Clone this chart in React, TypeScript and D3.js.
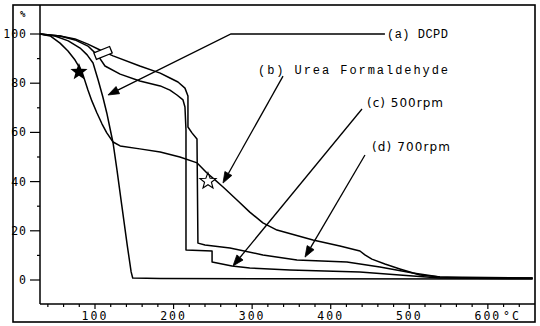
import React from "react";
import * as d3 from "d3";

// ---- data (temperature °C, weight %) ----
const dcpdT = [30, 49, 66, 81, 90, 97.5, 104, 110, 115, 119, 123, 128, 134, 141, 146, 148, 183, 657];
const dcpdV = [100, 99.2, 97.2, 94.3, 91.5, 88.2, 81.3, 74.4, 67.9, 61.8, 55.7, 44.7, 30.5, 14.2, 3.3, 0.8, 0.6, 0.4];

const ufT = [30, 43, 55.5, 65.6, 74.6, 83.5, 91, 96, 102.5, 109, 115, 123, 132, 157, 183, 208, 230, 242.5, 252.7, 263, 280.7, 297, 313.7, 331.6, 377.4, 411.7, 437.2, 443.5, 452.4, 469, 488, 513.5, 539, 577, 657];
const ufV = [100, 99.2, 96.3, 93.1, 89.4, 84.6, 77.2, 72.8, 67.9, 63.4, 59.8, 56.1, 54.5, 53.3, 52, 50, 47.6, 43.5, 40.7, 37.8, 32.5, 27.6, 23.2, 20.3, 16.3, 13.8, 11.8, 10.2, 8.5, 6.5, 4.5, 2, 1.2, 0.8, 0.8];

const r500T = [30, 55.5, 74.6, 91, 104, 112.7, 132, 157, 183, 195.4, 204.3, 212, 214.5, 215.8, 215.8, 249, 249, 274.3, 297, 348, 437, 504.6, 539, 657];
const r500V = [100, 99.2, 97.6, 95.1, 91.1, 87, 83.7, 80.9, 78.9, 77.2, 75.2, 73.2, 70.3, 61, 12.2, 11.8, 7.3, 5.7, 4.9, 4.1, 3.3, 1.6, 0.8, 0.6];

const r700T = [30, 55.5, 74.6, 91, 106.4, 123, 157, 183, 195.4, 205.6, 214.5, 218.3, 218.3, 223.4, 229.8, 231, 240, 271.8, 313.7, 357, 420.6, 462.6, 504.6, 539, 657];
const r700V = [100, 99.2, 98, 95.9, 93.5, 91.1, 87, 84.1, 82.1, 80.5, 78, 74.8, 62.2, 59.8, 57.3, 15, 14.2, 13, 10.2, 8.1, 7.3, 5.3, 2.8, 1.2, 0.8];

const xMajorTicks = [100, 200, 300, 400, 500, 600];
const yTicks = [0, 20, 40, 60, 80, 100];

const labelTexts = ["(a) DCPD", "(b) Urea Formaldehyde", "(c) 500rpm", "(d) 700rpm"];
// arrow paths in data units (T, %)
const arrowA = [[469, 100], [273, 100], [116.5, 75.2]];
const arrowB = [[339.3, 82.9], [262.9, 39.4]];
const arrowC = [[439.8, 69.5], [275.6, 5.7]];
const arrowD = [[443.6, 50.8], [367.3, 9.3]];
const labelAnchors = [[471.6, 98.4], [307.5, 83.7], [446.2, 70.3], [452.5, 52.4]];

const filledStar = [79.6, 84.6];
const hollowStar = [243.8, 40.2];
const boxMarker = [110.2, 92.3];

function starPath(cx: number, cy: number, R: number, r: number) {
  const pts: string[] = [];
  for (let i = 0; i < 10; i++) {
    const rad = i % 2 === 0 ? R : r;
    const a = -Math.PI / 2 + (i * Math.PI) / 5;
    pts.push(`${cx + rad * Math.cos(a)},${cy + rad * Math.sin(a)}`);
  }
  return "M" + pts.join("L") + "Z";
}

export default function App() {
  const W = 540, H = 326;
  const x = d3.scaleLinear().domain([30, 660]).range([40, 535]);
  const y = d3.scaleLinear().domain([0, 100]).range([280, 34]);
  const line = d3.line<[number, number]>().x(d => x(d[0])).y(d => y(d[1]));
  const series = [
    [dcpdT, dcpdV],
    [ufT, ufV],
    [r500T, r500V],
    [r700T, r700V],
  ].map(([t, v]) => t.map((tt, i) => [tt, v[i]] as [number, number]));

  const xMinor = d3.range(40, 660, 20);
  const yMinor = d3.range(0, 101, 10);
  const axisY = 304;

  const arrow = (pts: number[][], key: string) => {
    const p = pts.map(d => [x(d[0]), y(d[1])]);
    const n = p.length;
    const [x1, y1] = p[n - 2];
    const [x2, y2] = p[n - 1];
    const ang = Math.atan2(y2 - y1, x2 - x1);
    const L = 11, hw = 4;
    const bx = x2 - L * Math.cos(ang), by = y2 - L * Math.sin(ang);
    const head = `M${x2},${y2}L${bx + hw * Math.sin(ang)},${by - hw * Math.cos(ang)}L${bx - hw * Math.sin(ang)},${by + hw * Math.cos(ang)}Z`;
    const lineD = "M" + p.slice(0, n - 1).map(q => q.join(",")).join("L") + `L${bx},${by}`;
    return (
      <g key={key}>
        <path d={lineD} fill="none" stroke="#000" strokeWidth={1.3} />
        <path d={head} fill="#000" stroke="#000" strokeWidth={0.8} />
      </g>
    );
  };

  const bx = x(boxMarker[0]), by = y(boxMarker[1]);

  return (
    <svg width={W} height={H} style={{ position: "absolute", left: 0, top: 0, background: "#fff" }}>
      <rect x={13} y={5} width={522} height={317} fill="none" stroke="#000" strokeWidth={1.6} />
      {/* axes */}
      <line x1={40} y1={5} x2={40} y2={axisY} stroke="#000" strokeWidth={1.5} />
      <line x1={40} y1={axisY} x2={535} y2={axisY} stroke="#000" strokeWidth={1.5} />
      {xMinor.map(t => (
        <line key={"xt" + t} x1={x(t)} x2={x(t)} y1={axisY} y2={axisY + (t % 100 === 0 ? 5 : 3)} stroke="#000" strokeWidth={1.2} />
      ))}
      {xMajorTicks.map(t => (
        <text key={"xl" + t} x={x(t)} y={320} textAnchor="middle" fontFamily="DejaVu Sans Mono" fontSize={11.5} letterSpacing={2} fill="#000">{t}</text>
      ))}
      <text x={503} y={320} fontFamily="DejaVu Sans Mono" fontSize={11.5} letterSpacing={2} fill="#000">°C</text>
      {yMinor.map(v => (
        <line key={"yt" + v} x1={v % 20 === 0 ? 30 : 37} x2={40} y1={y(v)} y2={y(v)} stroke="#000" strokeWidth={1.2} />
      ))}
      {yTicks.map(v => (
        <text key={"yl" + v} x={27} y={y(v) + 4} textAnchor="end" fontFamily="DejaVu Sans Mono" fontSize={11.5} letterSpacing={1} fill="#000">{v}</text>
      ))}
      <text x={20} y={17} fontFamily="DejaVu Sans Mono" fontSize={9} fontWeight="bold" fill="#000">%</text>

      {/* curves */}
      {series.map((s, i) => (
        <path key={"s" + i} d={line(s) || ""} fill="none" stroke="#000" strokeWidth={1.5} strokeLinejoin="round" />
      ))}

      {/* markers */}
      <path d={starPath(x(filledStar[0]), y(filledStar[1]), 9, 3.8)} fill="#000" />
      <path d={starPath(x(hollowStar[0]), y(hollowStar[1]), 8.5, 3.6)} fill="#fff" stroke="#000" strokeWidth={1.1} />
      <rect x={bx - 8.5} y={by - 3.5} width={17} height={7} fill="#fff" stroke="#000" strokeWidth={1.3} transform={`rotate(-22 ${bx} ${by})`} />

      {/* annotations */}
      {arrow(arrowA, "a")}
      {arrow(arrowB, "b")}
      {arrow(arrowC, "c")}
      {arrow(arrowD, "d")}
      <text x={x(labelAnchors[0][0])} y={y(labelAnchors[0][1])} fontFamily="Liberation Mono" fontSize={12} textLength={61} lengthAdjust="spacing" fill="#000">{labelTexts[0]}</text>
      <text x={x(labelAnchors[1][0])} y={y(labelAnchors[1][1])} fontFamily="Liberation Mono" fontSize={12} textLength={190} lengthAdjust="spacing" fill="#000">{labelTexts[1]}</text>
      <text x={x(labelAnchors[2][0])} y={y(labelAnchors[2][1])} fontFamily="DejaVu Sans" fontSize={12} textLength={76} lengthAdjust="spacing" fill="#000">{labelTexts[2]}</text>
      <text x={x(labelAnchors[3][0])} y={y(labelAnchors[3][1])} fontFamily="DejaVu Sans" fontSize={12} textLength={78} lengthAdjust="spacing" fill="#000">{labelTexts[3]}</text>
    </svg>
  );
}
